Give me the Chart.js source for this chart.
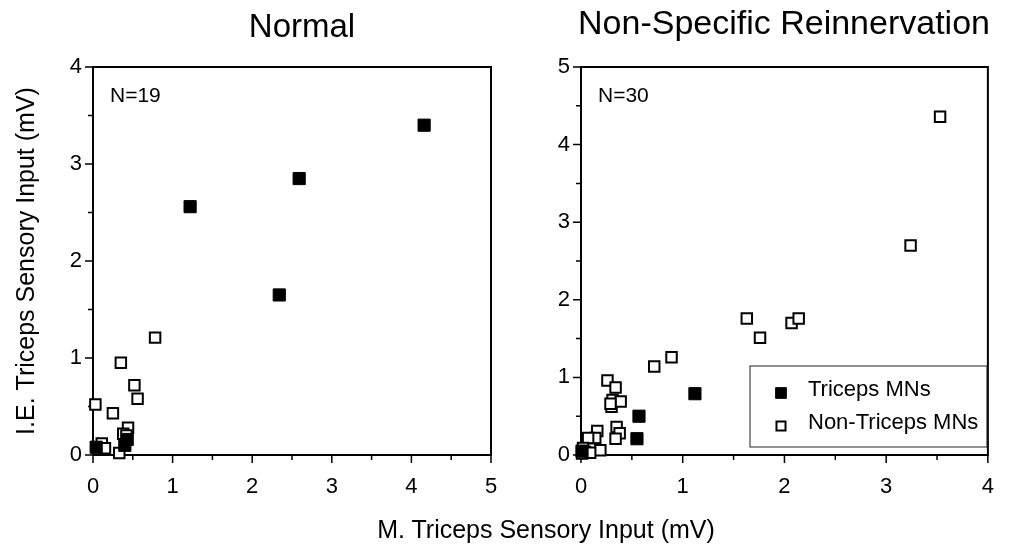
<!DOCTYPE html>
<html>
<head>
<meta charset="utf-8">
<script src="https://cdn.jsdelivr.net/npm/chart.js@4.4.0/dist/chart.umd.min.js"></script>
<style>
html, body { margin: 0; padding: 0; background: #fff; }
#wrap { position: relative; width: 1013px; height: 546px; overflow: hidden; font-family: "Liberation Sans", Arial, sans-serif; }
#leftBox { position: absolute; left: 0; top: 0; width: 520px; height: 546px; }
#rightBox { position: absolute; left: 500px; top: 0; width: 513px; height: 546px; }
#xTitle { position: absolute; left: 546px; top: 514px; transform: translateX(-50%); font-size: 25px; line-height: 30px; white-space: nowrap; color: #000; }
</style>
</head>
<body>
<div id="wrap">
    <div id="leftBox"><canvas id="normalChart"></canvas></div>
    <div id="rightBox"><canvas id="reinnChart"></canvas></div>
    <div id="xTitle">M. Triceps Sensory Input (mV)</div>
</div>
<script>
// Normal: triceps MNs (filled) and non-triceps MNs (open)
const normalTricepsX = [4.16, 2.59, 1.22, 2.34, 0.40, 0.43, 0.04];
const normalTricepsY = [3.40, 2.85, 2.56, 1.65, 0.10, 0.16, 0.08];
const normalOtherX = [0.03, 0.35, 0.78, 0.52, 0.56, 0.25, 0.44, 0.38, 0.11, 0.15, 0.33, 0.42];
const normalOtherY = [0.52, 0.95, 1.21, 0.72, 0.58, 0.43, 0.28, 0.22, 0.12, 0.07, 0.02, 0.20];

// Non-specific reinnervation
const reinnTricepsX = [1.12, 0.57, 0.55, 0.01];
const reinnTricepsY = [0.79, 0.50, 0.21, 0.05];
const reinnOtherX = [3.53, 3.24, 1.63, 1.76, 2.07, 2.14, 0.89, 0.72, 0.26, 0.34, 0.31, 0.30, 0.39,
                     0.35, 0.38, 0.34, 0.16, 0.14, 0.07, 0.12, 0.19, 0.02, 0.04, 0.01, 0.09, 0.29];
const reinnOtherY = [4.36, 2.70, 1.76, 1.51, 1.70, 1.76, 1.26, 1.14, 0.96, 0.87, 0.71, 0.62, 0.69,
                     0.36, 0.28, 0.21, 0.31, 0.22, 0.22, 0.08, 0.06, 0.09, 0.04, 0.02, 0.03, 0.66];

const seriesLabels = ['Triceps MNs', 'Non-Triceps MNs'];
const FONT = "'Liberation Sans', Arial, Helvetica, sans-serif";

function toPoints(xs, ys) {
    return xs.map((x, i) => ({ x: x, y: ys[i] }));
}

// box, tick marks, titles, N label and the inset legend
const framePlugin = {
    id: 'frame',
    beforeDatasetsDraw(chart) {
        const ctx = chart.ctx;
        const a = chart.chartArea;
        ctx.save();
        ctx.strokeStyle = '#000';
        ctx.lineWidth = 2;
        ctx.strokeRect(a.left, a.top, a.right - a.left, a.bottom - a.top);

        ctx.lineWidth = 1.5;
        ctx.beginPath();
        chart.scales.x.ticks.forEach(t => {
            const px = chart.scales.x.getPixelForValue(t.value);
            const len = Number.isInteger(t.value) ? 8 : 5;
            ctx.moveTo(px, a.bottom);
            ctx.lineTo(px, a.bottom + len);
        });
        chart.scales.y.ticks.forEach(t => {
            const py = chart.scales.y.getPixelForValue(t.value);
            const len = Number.isInteger(t.value) ? 8 : 5;
            ctx.moveTo(a.left, py);
            ctx.lineTo(a.left - len, py);
        });
        ctx.stroke();
        ctx.restore();
    },
    afterDraw(chart, args, opts) {
        const ctx = chart.ctx;
        const a = chart.chartArea;
        ctx.save();
        ctx.fillStyle = '#000';
        ctx.textAlign = 'center';
        ctx.textBaseline = 'alphabetic';
        ctx.font = opts.titleSize + 'px ' + FONT;
        ctx.fillText(opts.title, opts.titleX, opts.titleY);

        ctx.textAlign = 'left';
        ctx.font = '21px ' + FONT;
        ctx.fillText(opts.nLabel, a.left + 17, a.top + 35);

        if (opts.legend) {
            const lg = opts.legend;
            ctx.strokeStyle = '#222';
            ctx.lineWidth = 1;
            ctx.strokeRect(lg.x, lg.y, lg.w, lg.h);
            ctx.font = '22px ' + FONT;
            ctx.textBaseline = 'middle';
            chart.data.datasets.forEach((ds, i) => {
                const cy = lg.y + 24 + i * 33;
                ctx.fillStyle = ds.backgroundColor;
                ctx.strokeStyle = ds.borderColor;
                ctx.lineWidth = ds.borderWidth;
                Chart.helpers.drawPoint(ctx, {
                    pointStyle: 'rect', rotation: 0,
                    radius: ds.pointRadius - 1, borderWidth: ds.borderWidth
                }, lg.x + 31, cy + 3);
                ctx.fillStyle = '#000';
                ctx.fillText(ds.label, lg.x + 58, cy);
            });
        }
        ctx.restore();
    }
};

function makeChart(canvasId, tricepsPts, otherPts, xMax, yMax, extra) {
    return new Chart(document.getElementById(canvasId), {
        type: 'scatter',
        data: {
            datasets: [{
                label: seriesLabels[0],
                data: tricepsPts,
                pointStyle: 'rect',
                pointRadius: 8.6,
                backgroundColor: '#000',
                borderColor: '#000',
                borderWidth: 1,
                clip: false
            }, {
                label: seriesLabels[1],
                data: otherPts,
                pointStyle: 'rect',
                pointRadius: 7.4,
                backgroundColor: '#fff',
                borderColor: '#000',
                borderWidth: 2,
                clip: false
            }]
        },
        options: {
            responsive: true,
            maintainAspectRatio: false,
            animation: false,
            events: [],
            layout: { padding: { left: 0, top: 67, right: extra.padRight, bottom: 0 } },
            scales: {
                x: {
                    type: 'linear', min: 0, max: xMax,
                    grid: { display: false, drawTicks: false },
                    border: { display: false },
                    ticks: {
                        stepSize: 0.5, autoSkip: false, padding: 19, color: '#000',
                        font: { family: FONT, size: 22 },
                        callback: v => Number.isInteger(v) ? String(v) : ''
                    },
                    afterFit: s => { s.height = 91; }
                },
                y: {
                    type: 'linear', min: 0, max: yMax,
                    grid: { display: false, drawTicks: false },
                    border: { display: false },
                    ticks: {
                        stepSize: 0.5, autoSkip: false, padding: 11, color: '#000',
                        font: { family: FONT, size: 22 },
                        callback: v => Number.isInteger(v) ? String(v) : ''
                    },
                    title: extra.yTitle ? {
                        display: true, text: extra.yTitle, color: '#000',
                        font: { family: FONT, size: 25 },
                        padding: { top: 12, bottom: 0 }
                    } : { display: false },
                    afterFit: s => { s.width = extra.yWidth; }
                }
            },
            plugins: {
                legend: { display: false },
                tooltip: { enabled: false },
                frame: extra.frame
            }
        },
        plugins: [framePlugin]
    });
}

makeChart('normalChart', toPoints(normalTricepsX, normalTricepsY), toPoints(normalOtherX, normalOtherY), 5, 4, {
    padRight: 29,
    yWidth: 93,
    yTitle: 'I.E. Triceps Sensory Input (mV)',
    frame: { title: 'Normal', titleSize: 33, titleX: 302, titleY: 37, nLabel: 'N=19' }
});

makeChart('reinnChart', toPoints(reinnTricepsX, reinnTricepsY), toPoints(reinnOtherX, reinnOtherY), 4, 5, {
    padRight: 18,
    yWidth: 81,
    yTitle: null,
    frame: {
        title: 'Non-Specific Reinnervation', titleSize: 34, titleX: 284, titleY: 34, nLabel: 'N=30',
        legend: { x: 250, y: 366, w: 237, h: 81 }
    }
});
</script>
</body>
</html>
